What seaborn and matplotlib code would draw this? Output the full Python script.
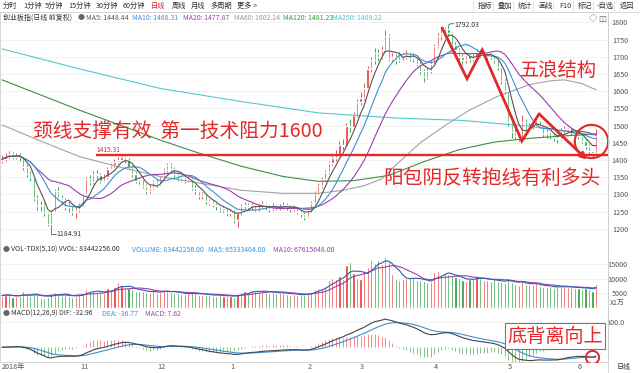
import numpy as np
import pandas as pd
import matplotlib
matplotlib.use('Agg')
import matplotlib.pyplot as plt
import seaborn as sns

# daily candles, 2018-09-20 .. 2019-06-10
closes = [
    1402, 1412, 1418, 1410, 1415, 1408, 1380, 1360, 1350, 1290,
    1265, 1270, 1245, 1215, 1250, 1310, 1290, 1285, 1262, 1270,
    1250, 1255, 1270, 1300, 1345, 1335, 1360, 1355, 1340, 1350,
    1375, 1385, 1395, 1400, 1410, 1400, 1380, 1360, 1340, 1345,
    1325, 1310, 1320, 1335, 1330, 1355, 1370, 1385, 1375, 1360,
    1345, 1350, 1340, 1345, 1320, 1310, 1295, 1300, 1280, 1275,
    1270, 1265, 1255, 1260, 1245, 1250, 1225, 1245, 1265, 1270,
    1262, 1268, 1258, 1265, 1272, 1262, 1258, 1266, 1260, 1264,
    1270, 1262, 1258, 1262, 1250, 1242, 1235, 1255, 1275, 1305,
    1325, 1345, 1365, 1390, 1405, 1415, 1445, 1440, 1500, 1495,
    1530, 1570, 1580, 1610, 1665, 1690, 1710, 1700, 1720, 1760,
    1695, 1700, 1690, 1705, 1700, 1712, 1695, 1700, 1680, 1660,
    1640, 1660, 1680, 1730, 1760, 1770, 1780, 1770, 1735, 1720,
    1700, 1690, 1705, 1695, 1700, 1715, 1705, 1710, 1700, 1705,
    1690, 1670, 1630, 1600, 1510, 1480, 1470, 1465, 1510, 1500,
    1495, 1505, 1515, 1500, 1475, 1480, 1470, 1465, 1460, 1485,
    1490, 1495, 1480, 1475, 1470, 1455, 1440, 1425, 1420, 1470,
]
highs = [
    1415, 1420, 1425, 1422, 1421, 1419, 1405, 1388, 1368, 1352,
    1298, 1282, 1275, 1250, 1256, 1315, 1322, 1298, 1290, 1280,
    1275, 1262, 1276, 1305, 1352, 1356, 1368, 1370, 1362, 1358,
    1380, 1392, 1402, 1410, 1415.31, 1413, 1405, 1385, 1365, 1352,
    1350, 1330, 1328, 1342, 1345, 1360, 1378, 1392, 1390, 1380,
    1365, 1356, 1355, 1352, 1348, 1326, 1314, 1308, 1304, 1286,
    1282, 1276, 1270, 1266, 1264, 1256, 1254, 1250, 1272, 1278,
    1274, 1275, 1272, 1272, 1280, 1276, 1268, 1274, 1270, 1272,
    1278, 1274, 1268, 1270, 1266, 1256, 1248, 1260, 1280, 1310,
    1332, 1350, 1372, 1398, 1415, 1428, 1455, 1460, 1508, 1520,
    1540, 1578, 1598, 1625, 1672, 1700, 1725, 1722, 1730, 1778,
    1765, 1712, 1708, 1715, 1712, 1720, 1715, 1708, 1705, 1688,
    1665, 1668, 1688, 1738, 1768, 1785, 1788, 1792.03, 1772, 1742,
    1725, 1708, 1712, 1710, 1708, 1722, 1720, 1718, 1715, 1712,
    1708, 1695, 1672, 1635, 1602, 1515, 1492, 1478, 1530, 1518,
    1508, 1512, 1522, 1518, 1502, 1490, 1485, 1478, 1472, 1492,
    1500, 1502, 1498, 1486, 1482, 1475, 1462, 1446, 1430, 1490,
]
lows = [
    1392, 1398, 1405, 1403, 1404, 1398, 1372, 1352, 1340, 1282,
    1255, 1252, 1238, 1208, 1184.91, 1248, 1284, 1276, 1255, 1250,
    1240, 1230, 1250, 1266, 1298, 1328, 1330, 1345, 1332, 1335,
    1345, 1370, 1380, 1388, 1396, 1392, 1374, 1352, 1332, 1330,
    1318, 1302, 1305, 1315, 1322, 1326, 1350, 1365, 1368, 1352,
    1340, 1338, 1334, 1335, 1314, 1302, 1288, 1288, 1272, 1268,
    1262, 1256, 1248, 1248, 1236, 1238, 1218, 1205, 1240, 1258,
    1255, 1256, 1252, 1252, 1260, 1256, 1250, 1252, 1254, 1255,
    1258, 1256, 1250, 1252, 1243, 1235, 1226, 1230, 1250, 1272,
    1300, 1320, 1340, 1360, 1385, 1398, 1412, 1430, 1438, 1480,
    1490, 1525, 1560, 1575, 1605, 1655, 1680, 1688, 1695, 1715,
    1688, 1685, 1680, 1686, 1690, 1695, 1688, 1685, 1672, 1650,
    1628, 1635, 1652, 1676, 1725, 1750, 1758, 1760, 1725, 1705,
    1690, 1678, 1682, 1685, 1688, 1695, 1698, 1700, 1692, 1694,
    1682, 1662, 1622, 1592, 1500, 1465, 1460, 1455, 1462, 1490,
    1486, 1490, 1498, 1492, 1468, 1465, 1460, 1455, 1448, 1458,
    1478, 1484, 1474, 1468, 1462, 1448, 1432, 1415, 1405, 1418,
]
first_open = 1398

# volume in 万
volumes = [
    4300, 4600, 4500, 3800, 4000, 4200, 5800, 4500, 4000, 5200,
    4400, 3600, 3500, 3900, 5000, 5600, 4800, 4200, 4500, 4000,
    3900, 4300, 4600, 5200, 6500, 6000, 5800, 5500, 5000, 5200,
    6800, 6400, 7200, 9000, 7500, 6800, 7000, 6400, 6000, 5800,
    5900, 5500, 5200, 6300, 5000, 5500, 6200, 6000, 5600, 5200,
    5000, 4800, 4700, 5000, 5400, 5000, 4600, 4400, 4800, 4500,
    4300, 4200, 4500, 4000, 4200, 4100, 3800, 4700, 5400, 5800,
    5200, 6200, 5800, 5600, 6000, 5500, 5200, 5400, 5000, 5200,
    5300, 4800, 4600, 4800, 4500, 4400, 4600, 5200, 5600, 6500,
    7000, 6800, 7600, 9600, 10500, 10000, 11000, 10000, 14800, 16000,
    12000, 10500, 10000, 13000, 14000, 16500, 15500, 16500, 15000, 17700,
    15800, 11600, 10000, 9800, 10000, 10500, 10200, 10800, 9500, 9800,
    9200, 8800, 9000, 12500, 12800, 11500, 12000, 11800, 11000, 10600,
    10200, 9600, 9200, 10000, 10500, 11000, 10200, 9800, 9500, 9200,
    10000, 9400, 9000, 8600, 10500, 9000, 8200, 8000, 9600, 8400,
    8000, 7800, 8600, 7600, 7400, 7200, 7500, 7000, 7600, 7200,
    7400, 7300, 7100, 7000, 6800, 6700, 7000, 6600, 6000, 8344,
]

# long moving averages (need history before the window)
ma60_idx = [0, 11, 22, 34, 45, 56, 68, 80, 90, 97, 103, 108, 112, 119, 126, 133, 141, 150, 156, 160, 165, 169]
ma60_val = [1502, 1455, 1410, 1378, 1352, 1333, 1312, 1303, 1303, 1312, 1325, 1345, 1385, 1450, 1500, 1545, 1585, 1619, 1630, 1633, 1622, 1604]
ma120_idx = [0, 22, 45, 56, 68, 80, 90, 100, 110, 120, 130, 140, 150, 160, 169]
ma120_val = [1633, 1545, 1458, 1420, 1382, 1352, 1338, 1340, 1355, 1395, 1430, 1452, 1463, 1470, 1476]
ma250_idx = [0, 22, 45, 68, 90, 112, 131, 150, 169]
ma250_val = [1723, 1665, 1608, 1570, 1537, 1522, 1515, 1498, 1472]

month_idx = [24, 46, 66, 88, 103, 124, 145, 165]
month_labels = ['11', '12', '1', '2', '3', '4', '5', '6']

# hand drawn marks
neck_level = 1415.31
neck_start = 26.7
zig_idx = [125.2, 132.3, 136.6, 147.9, 152.8, 166.4]
zig_val = [1784, 1636, 1720, 1455, 1534, 1401]

RED = '#e3282a'
UP = '#ec3434'
DOWN = '#1f9a35'

sns.set_theme(style='white')
plt.rcParams['font.family'] = ['Noto Sans CJK SC', 'DejaVu Sans']
plt.rcParams['axes.unicode_minus'] = False

df = pd.DataFrame({'close': closes, 'high': highs, 'low': lows, 'vol': volumes})
df['x'] = np.arange(len(df))
df['open'] = [first_open] + closes[:-1]
df['up'] = df['close'] >= df['open']
df['col'] = np.where(df['up'], UP, DOWN)
for n in (5, 10, 20):
    df[f'ma{n}'] = df['close'].rolling(n, min_periods=1).mean()
df['vma5'] = df['vol'].rolling(5, min_periods=1).mean()
df['vma10'] = df['vol'].rolling(10, min_periods=1).mean()
ema12 = df['close'].ewm(span=12, adjust=False).mean()
ema26 = df['close'].ewm(span=26, adjust=False).mean()
df['dif'] = ema12 - ema26
df['dea'] = df['dif'].ewm(span=9, adjust=False).mean()
df['hist'] = 2 * (df['dif'] - df['dea'])

W, H = 640, 373
fig = plt.figure(figsize=(6.4, 3.73), dpi=100)


def fx(px):
    return px / W


def fy(py):
    return 1 - py / H


def put(px, py, s, **kw):
    kw.setdefault('va', 'center')
    kw.setdefault('fontsize', 5.0)
    fig.text(fx(px), fy(py), s, **kw)


ax_main = fig.add_axes([0, fy(245), fx(608), (245 - 12) / H])
ax_vol = fig.add_axes([0, fy(310), fx(608), (310 - 245) / H])
ax_macd = fig.add_axes([0, fy(362), fx(608), (362 - 310) / H])

XL = (-0.57, 172.4)
for ax in (ax_main, ax_vol, ax_macd):
    ax.set_xlim(*XL)
    ax.set_xticks([])
    ax.yaxis.tick_right()
    ax.tick_params(axis='y', length=0, labelsize=5.2, labelcolor='#555555')
    for s in ax.spines.values():
        s.set_color('#cfcfcf')
        s.set_linewidth(0.6)

# ---- price panel
ax_main.set_ylim(1152.9, 1830.2)
ax_main.set_yticks(range(1200, 1801, 50))
ax_main.grid(axis='y', color='#f1f1f1', lw=0.6)
ax_main.vlines(df['x'], df['low'], df['high'], colors=df['col'], lw=0.6, zorder=2)
body = (df['close'] - df['open']).abs().clip(lower=1.5)
ax_main.bar(df['x'], body, bottom=df[['open', 'close']].min(axis=1), width=0.62,
            color=df['col'], zorder=3)

sns.lineplot(x=ma250_idx, y=ma250_val, ax=ax_main, color='#52c9cc', lw=0.8, zorder=4)
sns.lineplot(x=ma120_idx, y=ma120_val, ax=ax_main, color='#3f8f3f', lw=0.8, zorder=4)
sns.lineplot(x=ma60_idx, y=ma60_val, ax=ax_main, color='#a3a3a3', lw=0.8, zorder=4)
sns.lineplot(data=df, x='x', y='ma20', ax=ax_main, color='#9b3fae', lw=0.8, zorder=4)
sns.lineplot(data=df, x='x', y='ma10', ax=ax_main, color='#3c8fd6', lw=0.8, zorder=4)
sns.lineplot(data=df, x='x', y='ma5', ax=ax_main, color='#555555', lw=0.8, zorder=4)

# neck line, extremes
ax_main.hlines(neck_level, neck_start, XL[1], color=RED, lw=1.7, zorder=6)
ax_main.text(neck_start + 0.2, neck_level + 14, '1415.31', color=RED, fontsize=4.8, va='center')
ax_main.plot([14, 15.4], [1184.91, 1184.91], color='#555555', lw=0.6)
ax_main.text(15.5, 1184.91, '1184.91', fontsize=5, color='#333333', va='center')
ax_main.plot([127, 127.6, 128.6], [1792.03, 1796, 1796], color='#555555', lw=0.6)
ax_main.text(128.8, 1792, '1792.03', fontsize=5, color='#333333', va='center')

# wave sketch
ax_main.plot(zig_idx[:-1], zig_val[:-1], color=RED, lw=2, zorder=7, solid_joinstyle='miter')
ax_main.annotate('', xy=(zig_idx[-1], zig_val[-1]), xytext=(zig_idx[-2], zig_val[-2]),
                 arrowprops=dict(arrowstyle='-|>', color=RED, lw=2, mutation_scale=9,
                                 shrinkA=0, shrinkB=0), zorder=7)
ax_main.plot(167.7, 1455, 'o', ms=24, mfc='none', mec=RED, mew=1.5, zorder=7, clip_on=False)

# ---- volume panel
ax_vol.set_ylim(-690, 21724)
ax_vol.set_yticks([5000, 10000, 15000])
ax_vol.grid(axis='y', color='#f1f1f1', lw=0.6)
ax_vol.bar(df['x'], df['vol'], width=0.6, color=df['col'], zorder=2)
sns.lineplot(data=df, x='x', y='vma10', ax=ax_vol, color='#a43cb0', lw=0.8, zorder=3)
sns.lineplot(data=df, x='x', y='vma5', ax=ax_vol, color='#2f5fa8', lw=0.8, zorder=3)
ax_vol.spines['top'].set_visible(False)

# ---- MACD panel
ax_macd.set_ylim(-57.4, 145.7)
ax_macd.set_yticks([100])
ax_macd.set_yticklabels(['100.0'])
ax_macd.grid(axis='y', color='#f1f1f1', lw=0.6)
hcol = np.where(df['hist'] >= 0, '#f08c8c', '#86c486')
ax_macd.vlines(df['x'], 0, df['hist'], colors=hcol, lw=0.7, zorder=2)
sns.lineplot(data=df, x='x', y='dea', ax=ax_macd, color='#3c8fd6', lw=0.8, zorder=3)
sns.lineplot(data=df, x='x', y='dif', ax=ax_macd, color='#444444', lw=0.8, zorder=3)
ax_macd.spines['top'].set_visible(False)
ax_macd.plot(167.9, df['dif'].iloc[168], 'o', ms=9.5, mfc='none', mec=RED, mew=1.4, zorder=5)

for ax, pad in ((ax_main, 14.4), (ax_vol, 14.0), (ax_macd, 12.0)):
    ax.set_xlabel('')
    ax.set_ylabel('')
    ax.tick_params(axis='y', pad=pad)
    for t in ax.get_yticklabels():
        t.set_horizontalalignment('right')

# date strip
tr = ax_macd.get_xaxis_transform()
ax_macd.text(0, -0.1, '2018年', transform=tr, fontsize=5.2, color='#555555', va='center', ha='left')
for i, lab in zip(month_idx, month_labels):
    ax_macd.text(i - 0.6, -0.1, lab, transform=tr, fontsize=5.2, color='#555555', va='center', ha='center')

# ---- toolbar and legends
fig.add_artist(plt.Line2D([0, 1], [fy(11.5), fy(11.5)], color='#d8d8d8', lw=0.6))
fig.add_artist(plt.Line2D([fx(608), fx(608)], [0, fy(11.5)], color='#cfcfcf', lw=0.6))
for lab, px in [('分时', 3), ('1分钟', 23), ('5分钟', 45), ('15分钟', 68), ('30分钟', 96),
                ('60分钟', 123), ('日线', 151), ('周线', 172), ('月线', 191), ('多周期', 210),
                ('更多 >', 237)]:
    put(px, 6, lab, color=RED if lab == '日线' else '#333333', fontsize=5.2)
for lab, px in [('指标', 478), ('叠加', 498), ('统计', 518), ('画线', 538), ('F10', 559),
                ('标记', 578), ('-自选', 597), ('返回', 620)]:
    put(px, 6, lab, color='#333333', fontsize=5.2)
for px in (473, 493, 513, 533, 553, 573, 593, 614):
    fig.add_artist(plt.Line2D([fx(px), fx(px)], [fy(1), fy(11)], color='#dddddd', lw=0.6))

for s, px, c in [('创业板指(日线 前复权)', 3, '#333333'), ('●', 78, '#666666'),
                 ('MA5: 1448.44', 86, '#555555'), ('MA10: 1468.31', 132, '#3c8fd6'),
                 ('MA20: 1477.87', 183, '#9b3fae'), ('MA60: 1602.24', 234, '#999999'),
                 ('MA120: 1481.23', 283, '#2f9a3a'), ('MA250: 1469.22', 332, '#4fc4c8')]:
    put(px, 17.5, s, color=c)
put(589, 19, '◇', color='#666666', fontsize=6)
put(598, 19, '◫', color='#666666', fontsize=6)

for s, px, c in [('●', 3, '#666666'), ('VOL-TDX(5,10) VVOL: 83442256.00', 11, '#333333'),
                 ('VOLUME: 83442256.00', 132, '#3c8fd6'), ('MA5: 65333404.00', 208, '#3c8fd6'),
                 ('MA10: 67615648.00', 273, '#9b3fae')]:
    put(px, 250, s, color=c)
for s, px, c in [('●', 3, '#666666'), ('MACD(12,26,9) DIF: -32.96', 11, '#333333'),
                 ('DEA: -36.77', 102, '#3c8fd6'), ('MACD: 7.62', 145, '#9b3fae')]:
    put(px, 313.5, s, color=c)
put(610, 303, 'X1万', color='#555555')
put(617, 367, '日线', color='#333333')

# ---- red commentary
put(33, 131, '颈线支撑有效  第一技术阻力1600', color=RED, fontsize=14.2)
put(520, 70, '五浪结构', color=RED, fontsize=13.9)
put(383, 178, '阳包阴反转抱线有利多头', color=RED, fontsize=14.2)
put(507, 336, '底背离向上', color=RED, fontsize=13.8,
    bbox=dict(boxstyle='square,pad=0.12', fc='white', ec='#777777', lw=0.8))

fig.savefig('out.png', dpi=100, facecolor='white')
